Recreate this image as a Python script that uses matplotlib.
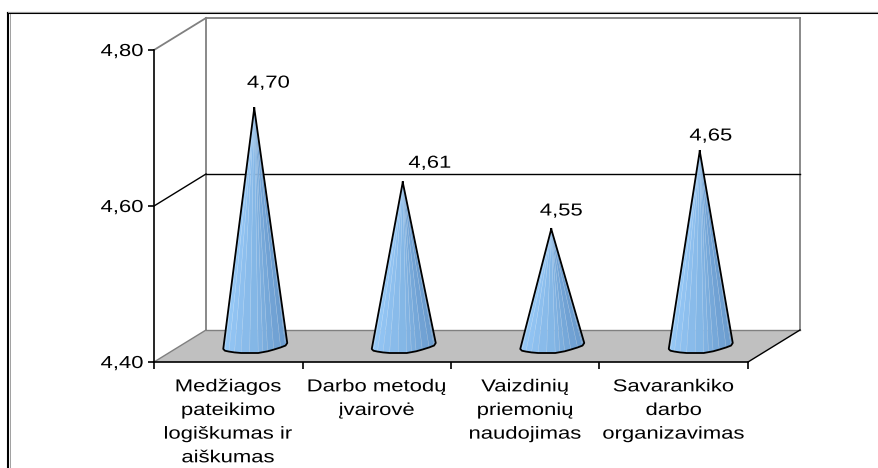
import numpy as np
import matplotlib
matplotlib.use('Agg')
import matplotlib.pyplot as plt
from matplotlib.patches import Polygon
from matplotlib.lines import Line2D
from matplotlib.patheffects import AbstractPathEffect
from matplotlib.transforms import Affine2D, IdentityTransform

categories = ['Medžiagos\npateikimo\nlogiškumas ir\naiškumas', 'Darbo metodų\nįvairovė',
              'Vaizdinių\npriemonių\nnaudojimas', 'Savarankiko\ndarbo\norganizavimas']
values = [4.705, 4.61, 4.55, 4.65]
value_labels = ['4,70', '4,61', '4,55', '4,65']
y_ticks = [4.40, 4.60, 4.80]
y_tick_labels = ['4,40', '4,60', '4,80']

W, H = 879, 468
DEPTH = (52, 32)        # pixels from the front plane to the back wall
label_offsets = [(14, 25), (27, 19), (10, 18), (11, 15)]     # pixels, from cone tip
base_dx = np.array([-31, -29, -16, 4, 15, 31, 33])           # cone foot outline, pixels
base_dy = np.array([-3, -5, -7, -7, -5, 0, 3])
left_col, right_col = np.array([0.60, 0.80, 0.98]), np.array([0.38, 0.57, 0.77])


class Widen(AbstractPathEffect):
    # the reference text is stretched sideways
    def __init__(self, sx):
        super().__init__()
        self.sx = sx

    def draw_path(self, renderer, gc, tpath, affine, rgbFace=None):
        mid = tpath.get_extents().x0 + tpath.get_extents().width / 2
        stretch = Affine2D().translate(-mid, 0).scale(self.sx, 1).translate(mid, 0)
        renderer.draw_path(gc, tpath, stretch + affine, rgbFace)


plt.rcParams['font.family'] = ['Liberation Sans', 'DejaVu Sans']
plt.rcParams['font.size'] = 12.5

fig = plt.figure(figsize=(W / 100, H / 100), dpi=100)
ax = fig.add_axes([154 / W, (H - 362) / H, 594 / W, 312 / H])
ax.set_xlim(0, len(categories))
ax.set_ylim(4.40, 4.80)
ax.patch.set_visible(False)


def front(x, v):
    return ax.transData.transform((x, v))


def back(x, v):
    return front(x, v) + DEPTH


def seg(p, q, color, lw):
    ax.add_line(Line2D([p[0], q[0]], [p[1], q[1]], color=color, lw=lw, clip_on=False,
                       transform=IdentityTransform(), zorder=1))


n = len(categories)
floor = [front(0, 4.4), front(n, 4.4), back(n, 4.4), back(0, 4.4)]
ax.add_patch(Polygon(floor, closed=True, fc='#C0C0C0', ec='none', clip_on=False,
                     transform=IdentityTransform(), zorder=0.5))

# walls and gridlines
grey = '#808080'
seg(back(0, 4.4), back(0, 4.8), grey, 1.3)
seg(back(n, 4.4), back(n, 4.8), grey, 1.3)
seg(back(0, 4.8), back(n, 4.8), grey, 1.3)
seg(front(0, 4.8), back(0, 4.8), grey, 1.3)
seg(front(0, 4.6), back(0, 4.6), 'black', 1.0)
seg(back(0, 4.6), back(n, 4.6), 'black', 1.0)
seg(back(0, 4.4), back(n, 4.4), grey, 1.0)
seg(front(0, 4.4), back(0, 4.4), grey, 1.0)
seg(front(n, 4.4), back(n, 4.4), 'black', 1.0)

# cones sit half way into the depth
t_knots = np.linspace(0, 1, len(base_dx))
t_fine = np.linspace(0, 1, 15)
for i, v in enumerate(values):
    tip = front(i + 0.5, v) + np.array(DEPTH) / 2
    foot = front(i + 0.5, 4.4) + np.array(DEPTH) / 2
    bx = foot[0] + np.interp(t_fine, t_knots, base_dx)
    by = foot[1] + np.interp(t_fine, t_knots, base_dy)
    for j in range(len(t_fine) - 1):
        c = left_col + (right_col - left_col) * (j / (len(t_fine) - 2)) ** 1.3
        ax.add_patch(Polygon([tip, (bx[j], by[j]), (bx[j + 1], by[j + 1])], closed=True,
                             fc=c, ec=c + (1 - c) * 0.3, lw=0.3, clip_on=False,
                             transform=IdentityTransform(), zorder=3))
    ax.add_line(Line2D(np.r_[tip[0], bx, tip[0]], np.r_[tip[1], by, tip[1]], color='black',
                       lw=1.3, clip_on=False, transform=IdentityTransform(), zorder=4,
                       solid_joinstyle='round'))
    dx, dy = label_offsets[i]
    ax.text(tip[0] + dx, tip[1] + dy, value_labels[i], ha='center', va='center',
            transform=IdentityTransform(), zorder=5, clip_on=False)

# axes
for s in ['top', 'right']:
    ax.spines[s].set_visible(False)
for s in ['left', 'bottom']:
    ax.spines[s].set_linewidth(1.2)
    ax.spines[s].set_zorder(2)
ax.set_yticks(y_ticks)
ax.set_yticklabels(y_tick_labels)
ax.tick_params(axis='y', length=4.5, width=1.2, pad=6.5)
ax.set_xticks(np.arange(n + 1))
ax.set_xticklabels([])
ax.tick_params(axis='x', which='major', length=5, width=1.2)
ax.set_xticks(np.arange(n) + 0.5, minor=True)
ax.set_xticklabels(categories, minor=True, linespacing=1.72)
ax.tick_params(axis='x', which='minor', length=0, pad=12.5)

for t in ax.texts + ax.get_yticklabels() + ax.get_xticklabels(minor=True):
    t.set_path_effects([Widen(1.27)])

# outer frame, cut off by the picture edge
for (x, y, col, lw) in [([8, 8], [H - 13, 0], 'black', 1.5), ([9.7, 9.7], [H - 14, 0], '#A0A0A0', 0.7),
                        ([8, W], [H - 13, H - 13], 'black', 1.5), ([8, W], [H - 11.5, H - 11.5], '#A0A0A0', 0.7)]:
    fig.add_artist(Line2D(x, y, color=col, lw=lw, transform=IdentityTransform()))

fig.savefig('out.png', dpi=100)
